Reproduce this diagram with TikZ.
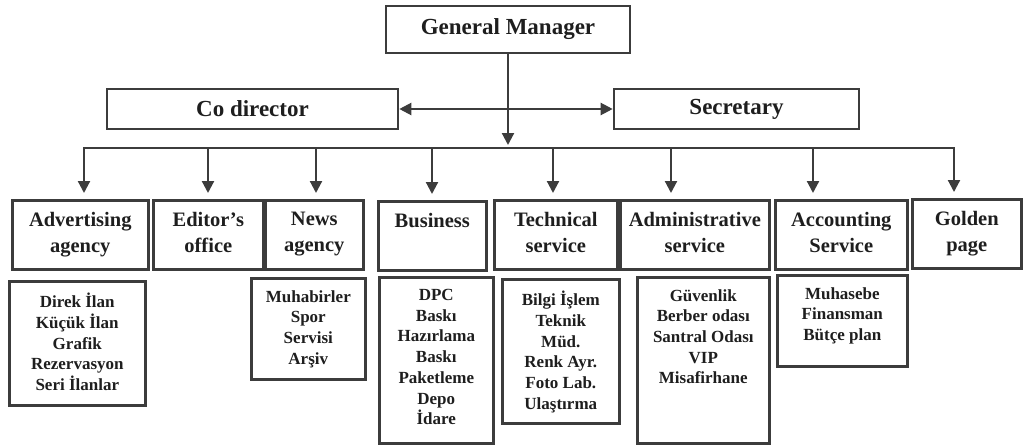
\documentclass[tikz,border=0pt]{standalone}
\usepackage{fontspec}
\setmainfont{Liberation Serif}
\usetikzlibrary{arrows.meta}
\definecolor{inkgray}{HTML}{3C3C3C}
\definecolor{textblack}{HTML}{1E1E1E}
\newcommand{\cellbox}[3]{\parbox[t][#2pt][t]{#1pt}{\centering\vspace*{12pt}#3}}
\begin{document}
\begin{tikzpicture}[x=1pt,y=-1pt,>={Triangle[width=12pt,length=12pt]},
  unit/.style={draw=inkgray,line width=2.6pt,inner sep=0pt,text=textblack},
  head/.style={unit,minimum height=40pt,font=\bfseries\fontsize{23}{27}\selectfont},
  dept/.style={unit,anchor=north west,font=\bfseries\fontsize{20.5}{26}\selectfont},
  task/.style={unit,anchor=north west,font=\bfseries\fontsize{17}{20.7}\selectfont},
  arr/.style={draw=inkgray,line width=2.2pt,->},
  bus/.style={draw=inkgray,line width=2.2pt,line cap=rect}]
  \useasboundingbox (0,0) rectangle (1035,444);
  \node[head,minimum width=244pt,minimum height=47pt] (gm) at (508,29.5) {General Manager};
  \node[head,minimum width=291pt] (codir) at (252.5,109) {Co director};
  \node[head,minimum width=245pt] (secr) at (736.5,109) {Secretary};
  \node[dept] (adv) at (11,199) {\cellbox{136}{69}{Advertising\\agency}};
  \node[dept] (edit) at (152,199) {\cellbox{110}{69}{Editor’s\\office}};
  \node[dept] (news) at (264,199) {\cellbox{98}{69}{News\\agency}};
  \node[dept] (busi) at (377,200) {\cellbox{108}{69}{Business}};
  \node[dept] (tech) at (493,199) {\cellbox{123}{69}{Technical\\service}};
  \node[dept] (admin) at (619,199) {\cellbox{149}{69}{Administrative\\service}};
  \node[dept] (acct) at (774,199) {\cellbox{132}{69}{Accounting\\Service}};
  \node[dept] (gold) at (911,198) {\cellbox{109}{69}{Golden\\page}};
  \node[task] (advlist) at (8,280) {\cellbox{136}{124}{Direk İlan\\Küçük İlan\\Grafik\\Rezervasyon\\Seri İlanlar}};
  \node[task] (newslist) at (250,277) {\cellbox{114}{101}{Muhabirler\\Spor\\Servisi\\Arşiv}};
  \node[task] (busilist) at (378,276) {\cellbox{114}{166}{DPC\\Baskı\\Hazırlama\\Baskı\\Paketleme\\Depo\\İdare}};
  \node[task] (techlist) at (501,278) {\cellbox{117}{144}{Bilgi İşlem\\Teknik\\Müd.\\Renk Ayr.\\Foto Lab.\\Ulaştırma}};
  \node[task] (adminlist) at (636,276) {\cellbox{132}{166}{Güvenlik\\Berber odası\\Santral Odası\\VIP\\Misafirhane}};
  \node[task] (acctlist) at (776,274) {\cellbox{130}{91}{Muhasebe\\Finansman\\Bütçe plan}};
  \foreach \x [count=\i] in {84,208,316,432,553,671,813,954}
    \coordinate (b\i) at (\x,148);
  \draw[bus] (b1) -- (b8);
  \draw[arr,shorten >=3pt] (gm) -- (gm |- b1);
  \draw[arr,<->] (codir) -- (secr);
  \draw[arr,shorten >=6pt] (b1) -- (b1 |- adv.north);
  \draw[arr,shorten >=6pt] (b2) -- (b2 |- edit.north);
  \draw[arr,shorten >=6pt] (b3) -- (b3 |- news.north);
  \draw[arr,shorten >=6pt] (b4) -- (b4 |- busi.north);
  \draw[arr,shorten >=6pt] (b5) -- (b5 |- tech.north);
  \draw[arr,shorten >=6pt] (b6) -- (b6 |- admin.north);
  \draw[arr,shorten >=6pt] (b7) -- (b7 |- acct.north);
  \draw[arr,shorten >=6pt] (b8) -- (b8 |- gold.north);
\end{tikzpicture}
\end{document}
